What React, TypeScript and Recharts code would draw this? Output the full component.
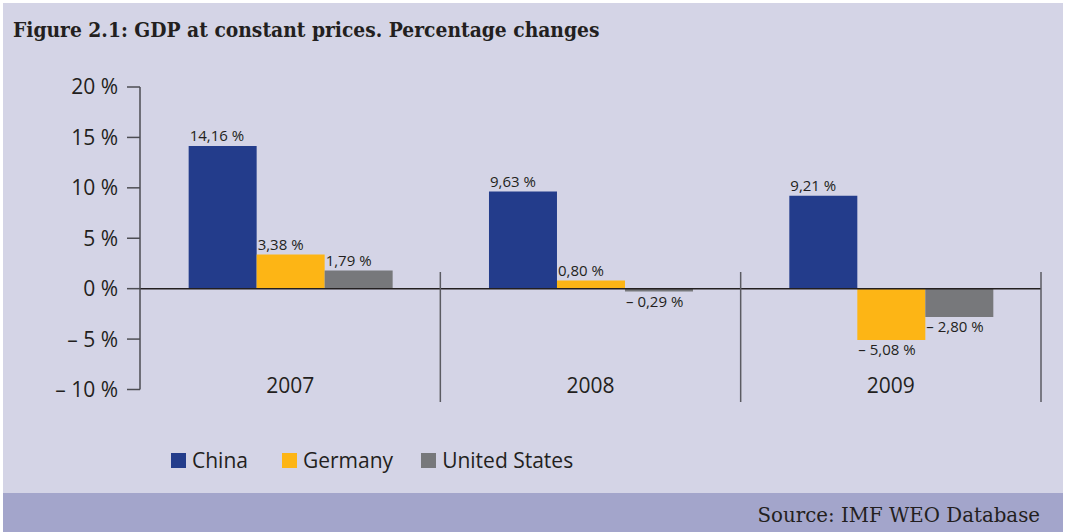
import React from "react";
import { BarChart, Bar, XAxis, YAxis, ReferenceLine, LabelList, Legend } from "recharts";

const years = ["2007", "2008", "2009"];
const china = [14.16, 9.63, 9.21];
const germany = [3.38, 0.8, -5.08];
const unitedStates = [1.79, -0.29, -2.8];
const yTicks = [-10, -5, 0, 5, 10, 15, 20];

const seriesKeys = ["china", "germany", "us"];
const seriesNames = ["China", "Germany", "United States"];
const seriesColors = ["#233c8b", "#fdb515", "#77787b"];

const data = years.map((year, i) => ({
  year,
  china: china[i],
  germany: germany[i],
  us: unitedStates[i],
}));

const INK = "#231f20";
const SANS = "'Open Sans', 'Noto Sans', sans-serif";
const SLAB = "'DejaVu Serif', serif";

const pct = (v: number) => {
  const s = Math.abs(v).toFixed(2).replace(".", ",") + " %";
  return v < 0 ? "– " + s : s;
};
const tickPct = (v: number) => (v < 0 ? `– ${Math.abs(v)} %` : `${v} %`);

function YearTick({ x, y, payload }: any) {
  const half = payload?.offset ?? 150;
  return (
    <g>
      <line x1={x + half} x2={x + half} y1={y - 117.5} y2={y + 12.5} stroke="#5b5b62" strokeWidth={1.5} />
      <text x={x} y={y + 3} textAnchor="middle" fill={INK} fontSize={21} fontFamily={SANS}>
        {payload.value}
      </text>
    </g>
  );
}

function BarLabel({ x, y, width, height, value }: any) {
  const top = Math.min(y, y + height);
  const bottom = Math.max(y, y + height);
  const neg = value < 0;
  return (
    <text x={x + 1} y={neg ? bottom + 15 : top - 5} fill={INK} fontSize={15} fontFamily={SANS}>
      {pct(value)}
    </text>
  );
}

function LegendBox() {
  return (
    <div style={{ display: "flex", alignItems: "center", fontFamily: SANS, fontSize: 21, color: INK }}>
      {seriesNames.map((n, i) => (
        <div key={n} style={{ display: "flex", alignItems: "center", marginRight: i === 0 ? 34 : 28 }}>
          <span style={{ width: 15, height: 15, background: seriesColors[i], marginRight: 6, display: "inline-block" }} />
          <span>{n}</span>
        </div>
      ))}
    </div>
  );
}

export default function App() {
  return (
    <div style={{ position: "absolute", left: 0, top: 0, width: 1067, height: 532, background: "#ffffff" }}>
      <div style={{ position: "absolute", left: 3, top: 3, width: 1060, height: 490, background: "#d4d4e6" }} />
      <div style={{ position: "absolute", left: 3, top: 493, width: 1060, height: 39, background: "#a3a5cb" }} />
      <div
        style={{
          position: "absolute", left: 13, top: 17, fontFamily: SLAB, fontWeight: "bold",
          fontSize: 20.8, color: INK, whiteSpace: "nowrap", fontStretch: "condensed",
        }}
      >
        Figure 2.1: GDP at constant prices. Percentage changes
      </div>
      <div
        style={{
          position: "absolute", right: 27, top: 504, fontFamily: SLAB,
          fontSize: 19.8, color: INK, whiteSpace: "nowrap",
        }}
      >
        Source: IMF WEO Database
      </div>
      <div style={{ position: "absolute", left: 0, top: 0 }}>
        <BarChart
          width={1067}
          height={532}
          data={data}
          margin={{ top: 87, right: 26, bottom: 112.5, left: 0 }}
          barCategoryGap="16.2%"
          barGap={0}
        >
          <YAxis
            width={140}
            domain={[-10, 20]}
            ticks={yTicks}
            interval={0}
            tickSize={13}
            tickMargin={9}
            axisLine={{ stroke: "#4d4d52", strokeWidth: 1.5 }}
            tickLine={{ stroke: "#4d4d52", strokeWidth: 1.5 }}
            tick={{ fill: INK, fontSize: 21, fontFamily: SANS }}
            tickFormatter={tickPct}
          />
          <XAxis
            dataKey="year"
            height={30}
            axisLine={false}
            tickLine={false}
            tickSize={0}
            tickMargin={0}
            interval={0}
            tick={<YearTick />}
          />
          <ReferenceLine y={0} stroke={INK} strokeWidth={1.5} />
          {seriesKeys.map((k, i) => (
            <Bar key={k} dataKey={k} name={seriesNames[i]} fill={seriesColors[i]} isAnimationActive={false}>
              <LabelList dataKey={k} content={<BarLabel />} />
            </Bar>
          ))}
          <Legend
            layout="horizontal"
            verticalAlign="middle"
            align="center"
            content={<LegendBox />}
            wrapperStyle={{ position: "absolute", left: 171, top: 446, width: 600 }}
          />
        </BarChart>
      </div>
    </div>
  );
}
